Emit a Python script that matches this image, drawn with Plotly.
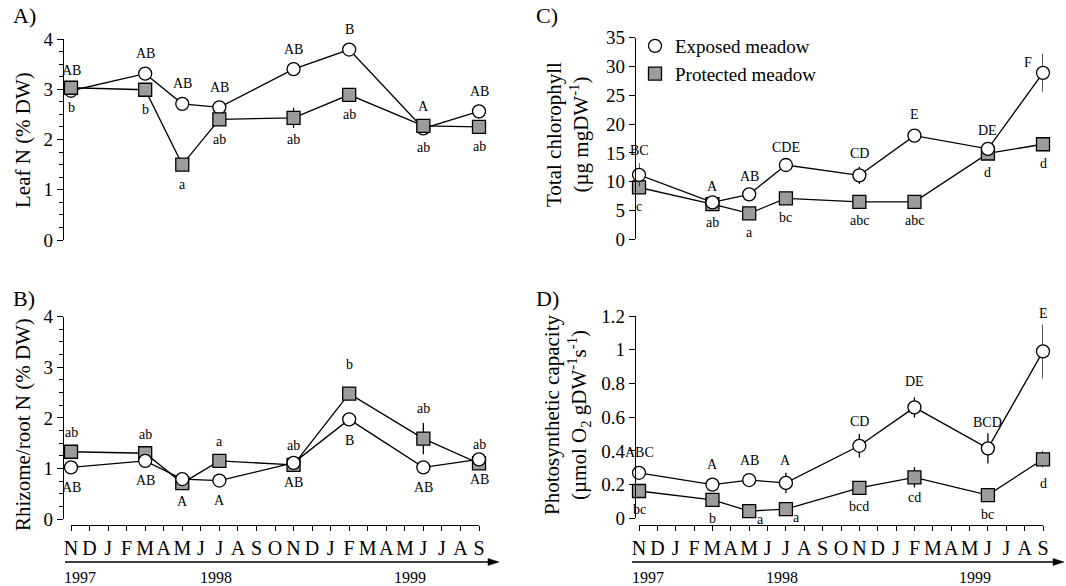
import plotly.graph_objects as go

# ---------------- data ----------------
months = ["N", "D", "J", "F", "M", "A", "M", "J", "J", "A", "S", "O",
          "N", "D", "J", "F", "M", "A", "M", "J", "J", "A", "S"]
sample_month_idx = [0, 4, 6, 8, 12, 15, 19, 22]   # Nov97, Mar98, May98, Jul98, Nov98, Feb99, Jun99, Sep99
years = ["1997", "1998", "1999"]
year_pos = [0.5, 7.8, 18.3]

# A) Leaf N (% DW)
leafN_exp = [2.97, 3.31, 2.71, 2.64, 3.40, 3.79, 2.22, 2.56]
leafN_exp_err = [0.05, 0.10, 0.05, 0.05, 0.05, 0.05, 0.10, 0.15]
leafN_pro = [3.03, 2.99, 1.50, 2.40, 2.43, 2.89, 2.27, 2.25]
leafN_pro_err = [0.05, 0.05, 0.05, 0.05, 0.20, 0.05, 0.12, 0.05]
leafN_exp_lab = ["AB", "AB", "AB", "AB", "AB", "B", "A", "AB"]
leafN_pro_lab = ["b", "b", "a", "ab", "ab", "ab", "ab", "ab"]

# B) Rhizome/root N (% DW)
rootN_exp = [1.02, 1.15, 0.79, 0.76, 1.11, 1.97, 1.02, 1.18]
rootN_exp_err = [0.05, 0.05, 0.05, 0.05, 0.05, 0.05, 0.05, 0.05]
rootN_pro = [1.33, 1.30, 0.71, 1.15, 1.07, 2.48, 1.59, 1.10]
rootN_pro_err = [0.05, 0.05, 0.05, 0.05, 0.05, 0.05, 0.31, 0.05]
rootN_exp_lab = ["AB", "AB", "A", "A", "AB", "B", "AB", "AB"]
rootN_pro_lab = ["ab", "ab", "", "a", "ab", "b", "ab", "ab"]

# C) Total chlorophyll (ug mgDW-1)
chl_exp = [11.2, 6.4, 7.8, 12.9, 11.1, 18.0, 15.7, 28.9]
chl_exp_err = [2.0, 0.5, 0.5, 0.5, 1.5, 0.5, 0.5, 3.3]
chl_pro = [9.0, 6.1, 4.5, 7.1, 6.5, 6.5, 14.9, 16.5]
chl_pro_err = [0.5, 0.5, 0.3, 0.5, 0.5, 0.5, 0.7, 1.2]
chl_exp_lab = ["BC", "A", "AB", "CDE", "CD", "E", "DE", "F"]
chl_pro_lab = ["c", "ab", "a", "bc", "abc", "abc", "d", "d"]

# D) Photosynthetic capacity (umol O2 gDW-1 s-1)
ps_exp = [0.27, 0.20, 0.227, 0.21, 0.43, 0.658, 0.415, 0.99]
ps_exp_err = [0.04, 0.02, 0.02, 0.06, 0.07, 0.06, 0.09, 0.16]
ps_pro = [0.162, 0.109, 0.043, 0.055, 0.18, 0.243, 0.138, 0.35]
ps_pro_err = [0.02, 0.02, 0.01, 0.02, 0.02, 0.06, 0.02, 0.05]
ps_exp_lab = ["ABC", "A", "AB", "A", "CD", "DE", "BCD", "E"]
ps_pro_lab = ["bc", "b", "a", "a", "bcd", "cd", "bc", "d"]

# ---------------- style ----------------
FONT = "Liberation Serif"
GREY = "#9c9c9c"
LW = 1.3
W, H = 1066, 586

# label offsets (pixels) – styling only
shiftA_exp = [20, 20, 20, 20, 20, 20, 22, 20]
shiftA_pro = [-20, -20, -20, -20, -22, -20, -22, -20]
shiftB_exp = [-20, -20, -22, -20, -20, -21, -20, -20]
shiftB_pro = [19, 19, 19, 19, 19, 29, 30, 19]
shiftC_exp = [24, 16, 18, 18, 22, 21, 18, 10]
xshiftC_exp = [0, 0, 0, 0, 0, 0, 0, -15]
shiftC_pro = [-19, -18, -19, -19, -19, -19, -19, -19]
shiftD_exp = [20, 20, 20, 22, 24, 26, 26, 38]
shiftD_pro = [-19, -19, -8, -8, -19, -20, -19, -24]
xshiftD_pro = [0, 0, 11, 11, 0, 0, 0, 0]

fig = go.Figure()

x_vals = sample_month_idx


def add_series(xa, ya, y, err, kind):
    if kind == "exp":
        marker = dict(symbol="circle", size=13, color="white", line=dict(color="black", width=LW))
        name = "Exposed meadow"
    else:
        marker = dict(symbol="square", size=13, color=GREY, line=dict(color="black", width=LW))
        name = "Protected meadow"
    fig.add_trace(go.Scatter(
        x=x_vals, y=y, xaxis=xa, yaxis=ya, mode="lines+markers",
        line=dict(color="black", width=LW), marker=marker,
        error_y=dict(type="data", array=err, visible=True, color="black", thickness=LW, width=0),
        showlegend=False, cliponaxis=False, name=name, hoverinfo="skip"))


def add_labels(xa, ya, y, labels, shifts, xshifts=None):
    for i, (xx, yy, lab) in enumerate(zip(x_vals, y, labels)):
        if not lab:
            continue
        fig.add_annotation(x=xx, y=yy, xref=xa, yref=ya, text=lab, showarrow=False,
                           xanchor="center", yanchor="middle",
                           yshift=shifts[i], xshift=(xshifts[i] if xshifts else 0),
                           font=dict(family=FONT, size=14, color="black"))


# Panel A
add_series("x", "y", leafN_exp, leafN_exp_err, "exp")
add_series("x", "y", leafN_pro, leafN_pro_err, "pro")
add_labels("x", "y", leafN_exp, leafN_exp_lab, shiftA_exp)
add_labels("x", "y", leafN_pro, leafN_pro_lab, shiftA_pro)
# Panel B (circles drawn on top)
add_series("x2", "y2", rootN_pro, rootN_pro_err, "pro")
add_series("x2", "y2", rootN_exp, rootN_exp_err, "exp")
add_labels("x2", "y2", rootN_exp, rootN_exp_lab, shiftB_exp)
add_labels("x2", "y2", rootN_pro, rootN_pro_lab, shiftB_pro)
# Panel C
add_series("x3", "y3", chl_pro, chl_pro_err, "pro")
add_series("x3", "y3", chl_exp, chl_exp_err, "exp")
add_labels("x3", "y3", chl_exp, chl_exp_lab, shiftC_exp, xshiftC_exp)
add_labels("x3", "y3", chl_pro, chl_pro_lab, shiftC_pro)
# Panel D
add_series("x4", "y4", ps_exp, ps_exp_err, "exp")
add_series("x4", "y4", ps_pro, ps_pro_err, "pro")
add_labels("x4", "y4", ps_exp, ps_exp_lab, shiftD_exp)
add_labels("x4", "y4", ps_pro, ps_pro_lab, shiftD_pro, xshiftD_pro)

# legend-only entries (symbols without lines)
fig.add_trace(go.Scatter(x=[None], y=[None], xaxis="x3", yaxis="y3", mode="markers",
                         marker=dict(symbol="circle", size=13, color="white", line=dict(color="black", width=LW)),
                         name="Exposed meadow", showlegend=True))
fig.add_trace(go.Scatter(x=[None], y=[None], xaxis="x3", yaxis="y3", mode="markers",
                         marker=dict(symbol="square", size=13, color=GREY, line=dict(color="black", width=LW)),
                         name="Protected meadow", showlegend=True))


def px_x(p):
    return p / W


def px_y(p):
    return 1 - p / H


xdom_left = [px_x(71), px_x(479)]
xdom_right = [px_x(639), px_x(1043)]

yaxis_common = dict(showline=True, linecolor="black", linewidth=LW, ticks="outside", ticklen=6,
                    tickwidth=LW, tickcolor="black", showgrid=False, zeroline=False,
                    tickfont=dict(family=FONT, size=19, color="black"), anchor="free",
                    automargin=False)
xaxis_hidden = dict(range=[0, 22], visible=False, showgrid=False, zeroline=False, automargin=False)
xaxis_months = dict(range=[0, 22], showline=True, linecolor="black", linewidth=LW, ticks="outside",
                    ticklen=5, tickwidth=LW, tickcolor="black", tickvals=list(range(len(months))),
                    ticktext=months, tickfont=dict(family=FONT, size=20, color="black"),
                    tickangle=0,
                    showgrid=False, zeroline=False, anchor="free", position=px_y(524.5),
                    automargin=False)

minor_q = dict(dtick=0.25, ticks="outside", ticklen=3.5, tickwidth=1, tickcolor="black", showgrid=False)

fig.update_layout(
    template="none",
    width=W, height=H, margin=dict(l=0, r=0, t=0, b=0, pad=0, autoexpand=False),
    paper_bgcolor="white", plot_bgcolor="white",
    font=dict(family=FONT, color="black"),
    xaxis=dict(domain=xdom_left, anchor="y", **xaxis_hidden),
    yaxis=dict(domain=[px_y(240), px_y(39)], range=[0, 4], dtick=1, position=px_x(63),
               minor=minor_q, **yaxis_common),
    xaxis2=dict(domain=xdom_left, **xaxis_months),
    yaxis2=dict(domain=[px_y(519), px_y(316.7)], range=[0, 4], dtick=1, position=px_x(63),
                minor=minor_q, **yaxis_common),
    xaxis3=dict(domain=xdom_right, anchor="y3", **xaxis_hidden),
    yaxis3=dict(domain=[px_y(239.3), px_y(37.7)], range=[0, 35], dtick=5, position=px_x(635),
                **yaxis_common),
    xaxis4=dict(domain=xdom_right, **xaxis_months),
    yaxis4=dict(domain=[px_y(518.3), px_y(316)], range=[0, 1.2], dtick=0.2, position=px_x(635),
                **yaxis_common),
    legend=dict(x=px_x(635), y=px_y(27), xanchor="left", yanchor="top",
                bgcolor="rgba(0,0,0,0)", font=dict(family=FONT, size=19, color="black"),
                tracegroupgap=0, itemwidth=30),
    showlegend=True,
)

# panel letters
for txt, xp, yp in [("A)", 24, 16), ("B)", 24, 298), ("C)", 547, 16), ("D)", 547, 298)]:
    fig.add_annotation(x=px_x(xp), y=px_y(yp), xref="paper", yref="paper", text=txt, showarrow=False,
                       xanchor="center", yanchor="middle",
                       font=dict(family=FONT, size=22, color="black"))

# axis titles
ytitles = [
    ("Leaf N (% DW)", 23, 140),
    ("Rhizome/root N (% DW)", 23, 425),
    ("Total chlorophyll<br>(µg mgDW<sup>-1</sup>)", 567, 135),
    ("Photosynthetic capacity<br>(µmol O<sub>2</sub> gDW<sup>-1</sup>s<sup>-1</sup>)", 567, 415),
]
for txt, xp, yp in ytitles:
    fig.add_annotation(x=px_x(xp), y=px_y(yp), xref="paper", yref="paper", text=txt, showarrow=False,
                       xanchor="center", yanchor="middle",
                       textangle=-90, font=dict(family=FONT, size=21, color="black"))

# time arrows (line + arrow head, in page pixels) and year labels
yarr = px_y(562)
hw = 3.5 / H
for xa, x0p, x1p in [("x2", 65, 499), ("x4", 632, 1064)]:
    x0, x1 = px_x(x0p), px_x(x1p)
    hl = 11 / W
    fig.add_shape(type="line", xref="paper", yref="paper", x0=x0, x1=x1 - hl * 0.6, y0=yarr, y1=yarr,
                  line=dict(color="black", width=1.6))
    fig.add_shape(type="path", xref="paper", yref="paper",
                  path=f"M {x1 - hl} {yarr + hw} L {x1} {yarr} L {x1 - hl} {yarr - hw} Z",
                  fillcolor="black", line=dict(color="black", width=0.5))
    for yr, pos in zip(years, year_pos):
        fig.add_annotation(x=pos, y=px_y(577), xref=xa, yref="paper", text=yr, showarrow=False,
                           xanchor="center", yanchor="middle",
                           font=dict(family=FONT, size=16, color="black"))

fig.write_html("out.html")
